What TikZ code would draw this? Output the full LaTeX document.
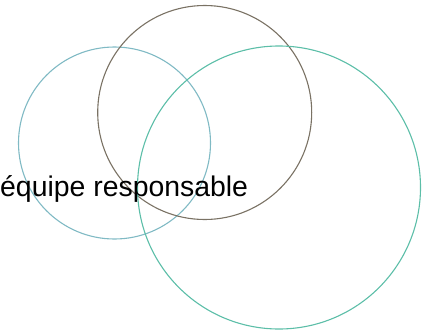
\documentclass[tikz,border=0pt]{standalone}
\usepackage{fontspec}
\setmainfont{Liberation Sans}
\usepackage{tikz}
\usetikzlibrary{positioning}
\definecolor{ringblue}{RGB}{128, 186, 196}
\definecolor{ringbrown}{RGB}{122, 114, 100}
\definecolor{ringteal}{RGB}{92, 190, 168}
\tikzset{
    ring/.style={line width=1.1pt}
}

\begin{document}
\begin{tikzpicture}[x=1pt, y=-1pt]
    \useasboundingbox (0,0) rectangle (431,335);

    % Circles
    \draw[ring, ringblue] (114.5,143) circle (96);
    \draw[ring, ringbrown] (204.7,112.5) circle (107);
    \draw[ring, ringteal] (279,187.5) circle (141.5);

    % Label
    \node[anchor=base west, inner sep=0pt, font=\fontsize{28.4}{32}\selectfont] (team) at (0,196.5) {équipe responsable};

\end{tikzpicture}
\end{document}
